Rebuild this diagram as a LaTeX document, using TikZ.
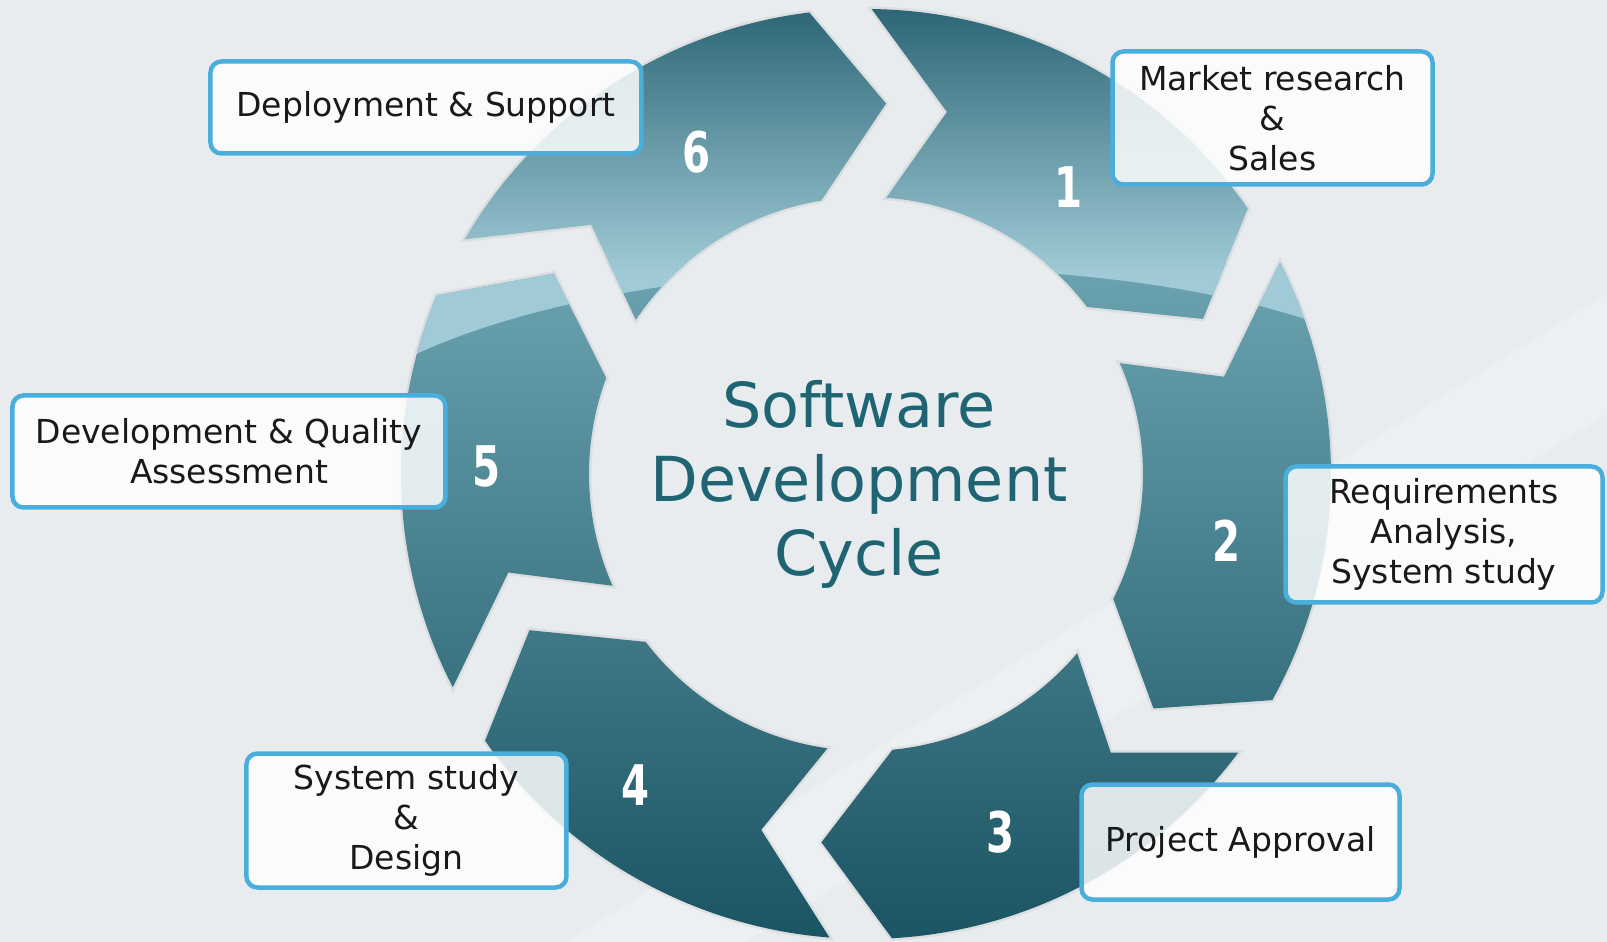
\documentclass[tikz,border=0pt]{standalone}
\usepackage{fontspec}
\setmainfont{DejaVu Sans}
\newfontfamily\numfont[FakeStretch=0.72]{DejaVu Sans}
\usepackage{tikz}
\definecolor{bgcol}{HTML}{E8ECEF}
\definecolor{ringtop}{HTML}{2B6474}
\definecolor{ringglossmid}{HTML}{72A9B7}
\definecolor{ringgloss}{HTML}{A0CBD6}
\definecolor{ringlow}{HTML}{6BA3B1}
\definecolor{ringmid}{HTML}{37727F}
\definecolor{ringdark}{HTML}{1A5361}
\definecolor{boxblue}{HTML}{4AAEDC}
\definecolor{titlecol}{HTML}{1E6472}
\tikzset{
  label box/.style={draw=boxblue, line width=4.5pt, rounded corners=11pt, fill=white,
    fill opacity=0.84, text opacity=1, text=black!90, align=center, inner sep=0pt,
    font=\fontsize{33}{40}\selectfont},
  stage num/.style={text=white, font=\numfont\bfseries\fontsize{56}{56}\selectfont},
  seg shadow/.style={draw=black!35, line width=5pt, opacity=0.18}
}
% one ring piece: tail junction #1, head junction #2 (degrees, clockwise)
\newcommand{\ringpiece}[2]{(#1-7.7:465) arc[start angle=#1-7.7, end angle=#2, radius=465]
  -- (#2-10.1:371) -- (#2+2.3:277) arc[start angle=#2+2.3, end angle=#1-11.2, radius=277]
  -- (#1-19.6:371) -- cycle}

\begin{document}
\begin{tikzpicture}[x=1pt, y=1pt]
\fill[bgcol] (-866,-468) rectangle (741,474);
\useasboundingbox (-866,-468) rectangle (741,474);
\fill[white, opacity=0.25] (-300,-468) -- (-120,-468) -- (741,60) -- (741,180) -- cycle;

\foreach \t/\h in {97/34.8, 34.8/-29.1, -29.1/-86.8, -86.8/-145, -145/-202.6, -202.6/-263}{
  \draw[seg shadow] \ringpiece{\t}{\h};
  \begin{scope}
    \clip \ringpiece{\t}{\h};
    \shade[top color=ringlow, middle color=ringmid, bottom color=ringdark] (-470,-470) rectangle (470,210);
    \clip (-500,105) -- (-480,105) .. controls (-250,230) and (250,235) .. (480,140) -- (500,140) -- (500,480) -- (-500,480) -- cycle;
    \fill[ringgloss] (-500,60) rectangle (500,200);
    \shade[top color=ringtop, middle color=ringglossmid, bottom color=ringgloss] (-500,200) rectangle (500,470);
  \end{scope}
}

\node[text=titlecol, align=center, font=\fontsize{62}{74}\selectfont] (title) at (-7,-10) {Software\\Development\\Cycle};

\node[stage num] (n1) at (203,287) {1};
\node[stage num] (n2) at (361,-67) {2};
\node[stage num] (n3) at (135,-358) {3};
\node[stage num] (n4) at (-230,-311) {4};
\node[stage num] (n5) at (-379,8) {5};
\node[stage num] (n6) at (-169,322) {6};

\node[label box, minimum width=431, minimum height=92] (deploy) at (-440,366.5) {Deployment \& Support};
\node[label box, minimum width=320, minimum height=133] (market) at (406.5,356) {Market research\\\&\\Sales};
\node[label box, minimum width=433, minimum height=112] (devqa) at (-637,22.5) {Development \& Quality\\Assessment};
\node[label box, minimum width=317, minimum height=136] (req) at (578,-60.5) {Requirements\\Analysis,\\System study};
\node[label box, minimum width=320, minimum height=134] (design) at (-459.5,-346.5) {System study\\\&\\Design};
\node[label box, minimum width=318, minimum height=115] (approval) at (374.5,-368) {Project Approval};
\end{tikzpicture}
\end{document}
